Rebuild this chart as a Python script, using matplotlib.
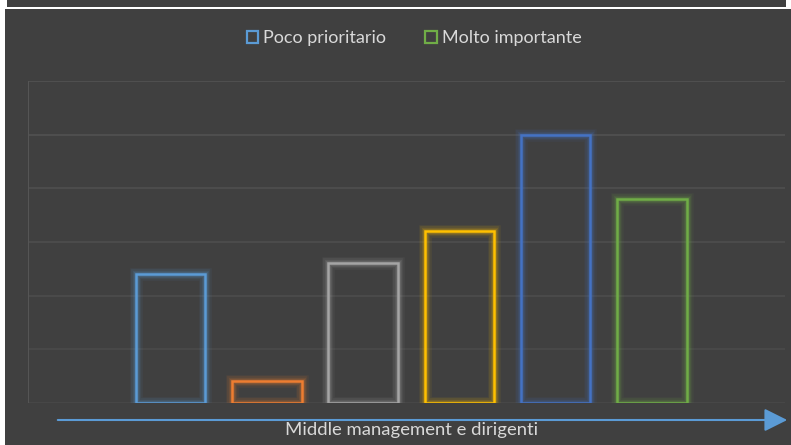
import matplotlib
matplotlib.use("Agg")
import matplotlib.pyplot as plt
from matplotlib.patches import Rectangle, FancyArrowPatch

# data (one category, six series)
series = ["Poco prioritario", "Serie 2", "Serie 3", "Serie 4", "Serie 5", "Molto importante"]
values = [2.4, 0.41, 2.6, 3.2, 5.0, 3.8]
colors = ["#5B9BD5", "#ED7D31", "#A5A5A5", "#FFC000", "#4472C4", "#70AD47"]
legend_items = ["Poco prioritario", "Molto importante"]
category = "Middle management e dirigenti"

W, H = 791, 445
bg = "#404040"
txt = "#d9d9d9"
plt.rcParams['font.family'] = ['Lato', 'DejaVu Sans']

fig = plt.figure(figsize=(W / 100, H / 100), dpi=100)
fig.patch.set_facecolor("white")

# dark panel of the chart and strip of the chart above it
fig.add_artist(Rectangle((5 / W, 0), 1 - 5 / W, (H - 9) / H, transform=fig.transFigure,
                         facecolor=bg, edgecolor="none", zorder=0))
fig.add_artist(Rectangle((7 / W, (H - 7) / H), (786 - 7) / W, 7 / H, transform=fig.transFigure,
                         facecolor=bg, edgecolor="none", zorder=0))

ax = fig.add_axes([28 / W, (H - 403) / H, (785 - 28) / W, (403 - 81) / H])
ax.set_facecolor("none")
ax.set_ylim(0, 6)
ax.set_xlim(-1.48, 6.38)
for s in ax.spines.values():
    s.set_visible(False)
ax.set_xticks([])
ax.set_yticks([])

# gridlines
for g in range(0, 7):
    ax.axhline(g, color="#555555", lw=1.2, alpha=0.9 - 0.08 * (6 - g), zorder=1)
ax.axvline(-1.48, color="#555555", lw=1.5, zorder=1)

# outlined bars with glow
width = 0.72
for i, (v, c) in enumerate(zip(values, colors)):
    for lw, a in [(9, 0.07), (7, 0.09), (5, 0.12), (3.5, 0.18)]:
        ax.bar(i, v, width=width, fill=False, edgecolor=c, linewidth=lw, alpha=a, zorder=2)
    ax.bar(i, v, width=width, fill=False, edgecolor=c, linewidth=1.8, zorder=3)

# legend
handles = [Rectangle((0, 0), 1, 1, facecolor="none", edgecolor=colors[series.index(n)], linewidth=1.6)
           for n in legend_items]
fig.legend(handles, legend_items, loc="center", bbox_to_anchor=(414 / W, (H - 38) / H),
           ncol=2, frameon=False, fontsize=13, labelcolor=txt, handlelength=0.65,
           handleheight=0.65, handletextpad=0.25, columnspacing=2.2)

# category arrow and label
fig.add_artist(FancyArrowPatch((55 / W, (H - 420) / H), (790 / W, (H - 420) / H),
                               transform=fig.transFigure, arrowstyle="-|>,head_length=1.0,head_width=0.5",
                               mutation_scale=14, color="#5B9BD5", linewidth=1.5, zorder=4))
fig.text(412 / W, (H - 430) / H, category, ha="center", va="center", fontsize=13.3, color=txt)

fig.savefig("out.png", dpi=100, facecolor=fig.get_facecolor())
